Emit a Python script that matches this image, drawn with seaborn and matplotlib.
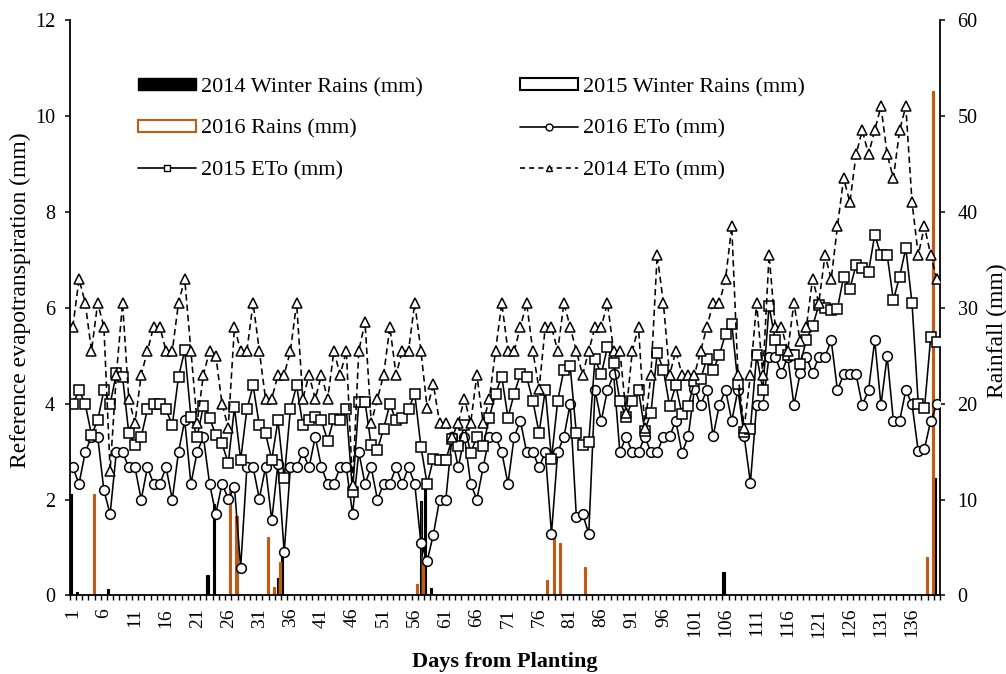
import pandas as pd
import matplotlib.pyplot as plt
import seaborn as sns
from matplotlib.patches import Patch
from matplotlib.lines import Line2D

sns.set_style("ticks")
plt.rcParams["font.family"] = ["Liberation Serif", "DejaVu Serif"]
for key in ["text.color", "axes.labelcolor", "xtick.color", "ytick.color", "axes.edgecolor"]:
    plt.rcParams[key] = "black"

ORANGE = "#C55A11"

# days from planting
days = list(range(1, 141))

# reference ET (mm/day)
eto_2014 = [5.6, 6.6, 6.1, 5.1, 6.1, 5.6, 2.6, 4.6, 6.1, 4.1,
            3.6, 4.6, 5.1, 5.6, 5.6, 5.1, 5.1, 6.1, 6.6, 5.1,
            3.6, 4.6, 5.1, 5.0, 4.0, 3.5, 5.6, 5.1, 5.1, 6.1,
            5.1, 4.1, 4.1, 4.6, 4.6, 5.1, 6.1, 4.1, 4.6, 4.1,
            4.6, 4.1, 5.1, 4.6, 5.1, 2.3, 5.1, 5.7, 3.6, 4.1,
            4.6, 5.6, 4.6, 5.1, 5.1, 6.1, 5.1, 3.9, 4.4, 3.6,
            3.6, 3.3, 3.6, 4.1, 3.6, 4.6, 3.6, 4.1, 5.1, 6.1,
            5.1, 5.1, 5.6, 6.1, 5.1, 4.3, 5.6, 5.6, 5.1, 6.1,
            5.6, 5.1, 4.6, 5.1, 5.6, 5.6, 6.1, 5.1, 5.1, 3.8,
            5.1, 5.6, 3.5, 4.6, 7.1, 6.1, 4.6, 5.1, 4.6, 4.6,
            4.6, 5.1, 5.6, 6.1, 6.1, 6.6, 7.7, 4.6, 3.5, 4.6,
            6.1, 4.6, 7.1, 5.6, 5.6, 5.1, 6.1, 5.3, 5.6, 6.6,
            6.1, 7.1, 6.6, 7.7, 8.7, 8.2, 9.2, 9.7, 9.2, 9.7,
            10.2, 9.2, 8.7, 9.7, 10.2, 8.2, 7.1, 7.7, 7.1, 6.6]

eto_2015 = [3.99, 4.28, 3.99, 3.35, 3.65, 4.28, 3.99, 4.63, 4.56, 3.39,
            3.13, 3.31, 3.88, 3.99, 3.99, 3.88, 3.55, 4.56, 5.11, 3.72,
            3.31, 3.95, 3.71, 3.34, 3.17, 2.76, 3.92, 2.83, 3.88, 4.38,
            3.55, 3.38, 2.83, 3.65, 2.44, 3.88, 4.38, 3.55, 3.65, 3.72,
            3.65, 3.22, 3.69, 3.65, 3.88, 2.16, 4.04, 4.04, 3.13, 3.04,
            3.48, 3.99, 3.65, 3.71, 3.88, 4.21, 3.10, 2.32, 2.85, 2.82,
            2.82, 3.27, 3.11, 3.55, 2.97, 3.31, 3.11, 3.71, 4.21, 4.56,
            3.71, 4.21, 4.61, 4.56, 4.06, 3.39, 4.28, 2.85, 4.06, 4.71,
            4.78, 3.38, 3.13, 3.20, 4.94, 4.61, 5.18, 4.85, 4.06, 3.72,
            4.06, 4.28, 3.44, 3.81, 5.05, 4.71, 3.95, 4.38, 3.78, 3.95,
            4.48, 4.51, 4.94, 4.70, 5.01, 5.46, 5.67, 4.41, 3.41, 3.48,
            5.01, 4.29, 6.04, 5.32, 5.11, 5.01, 5.01, 4.82, 5.33, 5.62,
            6.05, 6.00, 5.96, 5.98, 6.65, 6.40, 6.89, 6.82, 6.75, 7.52,
            7.10, 7.10, 6.16, 6.65, 7.24, 6.09, 4.00, 3.90, 5.38, 5.29]

eto_2016 = [2.67, 2.33, 2.99, 3.31, 3.31, 2.19, 1.70, 2.99, 2.99, 2.67,
            2.67, 2.00, 2.67, 2.33, 2.33, 2.67, 2.00, 2.99, 3.65, 2.33,
            2.99, 3.31, 2.33, 1.70, 2.33, 2.02, 2.26, 0.58, 2.67, 2.67,
            2.02, 2.67, 1.57, 2.75, 0.90, 2.67, 2.67, 2.99, 2.67, 3.31,
            2.67, 2.33, 2.33, 2.67, 2.67, 1.70, 2.99, 2.33, 2.67, 2.00,
            2.33, 2.33, 2.67, 2.33, 2.67, 2.33, 1.09, 0.72, 1.27, 2.00,
            2.00, 3.31, 2.67, 3.31, 2.33, 2.00, 2.67, 3.31, 3.31, 2.99,
            2.33, 3.31, 3.64, 2.99, 2.99, 2.67, 2.99, 1.29, 2.99, 3.31,
            3.99, 1.64, 1.70, 1.29, 4.28, 3.64, 4.28, 4.61, 2.99, 3.31,
            2.99, 2.99, 3.31, 2.99, 2.99, 3.31, 3.32, 3.64, 2.97, 3.32,
            4.31, 3.97, 4.29, 3.32, 3.97, 4.29, 3.64, 4.29, 3.32, 2.35,
            3.97, 3.97, 4.98, 4.98, 4.63, 4.98, 3.97, 4.63, 4.98, 4.63,
            4.98, 4.98, 5.32, 4.28, 4.61, 4.61, 4.61, 3.97, 4.28, 5.32,
            3.97, 4.99, 3.64, 3.64, 4.28, 3.99, 3.01, 3.06, 3.64, 3.99]

# rainfall (mm), only days with rain
rain_2014_days = [1, 2, 7, 23, 24, 35, 58, 59, 106, 140]
rain_2014_mm = [10.6, 0.4, 0.7, 2.1, 9.5, 4.5, 11.5, 0.8, 2.5, 12.3]
rain_2015_days = [34, 57]
rain_2015_mm = [1.8, 9.9]
rain_2016_days = [4, 26, 27, 32, 33, 34, 56, 57, 77, 78, 79, 83, 138, 139]
rain_2016_mm = [10.6, 11.2, 8.3, 6.1, 0.9, 3.5, 1.2, 4.0, 1.6, 6.8, 5.5, 3.0, 4.0, 52.6]

rain_series = ["2014 Winter Rains (mm)", "2015 Winter Rains (mm)", "2016 Rains (mm)"]
rain = pd.concat([
    pd.DataFrame({"day": rain_2014_days, "mm": rain_2014_mm, "series": rain_series[0]}),
    pd.DataFrame({"day": rain_2015_days, "mm": rain_2015_mm, "series": rain_series[1]}),
    pd.DataFrame({"day": rain_2016_days, "mm": rain_2016_mm, "series": rain_series[2]}),
])

fig = plt.figure(figsize=(10.06, 6.74), dpi=100)
ax = fig.add_axes([0.0693, 0.1165, 0.8651, 0.8538])
ax2 = ax.twinx()

# rainfall bars on the right axis (thin bars look solid, like the original)
sns.barplot(data=rain, x="day", y="mm", hue="series", hue_order=rain_series,
            native_scale=True, dodge=True, width=1.0, errorbar=None, legend=False,
            palette=dict(zip(rain_series, ["black", "#333333", ORANGE])), ax=ax2)
for cont, ec in zip(ax2.containers, ["black", "black", ORANGE]):
    for bar in cont:
        bar.set_edgecolor(ec)
        bar.set_linewidth(0.8)

# ETo lines on the left axis
line_styles = [
    (eto_2016, "o", "-", 7.0),
    (eto_2015, "s", "-", 6.5),
    (eto_2014, "^", (0, (4, 2.5)), 7.5),
]
for vals, mk, ls, ms in line_styles:
    sns.lineplot(x=days, y=vals, ax=ax, color="black", linewidth=1.15, linestyle=ls,
                 marker=mk, markersize=ms, markerfacecolor="white",
                 markeredgecolor="black", markeredgewidth=1.1)

ax.set_zorder(ax2.get_zorder() + 1)
ax.patch.set_visible(False)

ax.set_xlim(0.5, 140.5)
ax.set_ylim(0, 12)
ax2.set_ylim(0, 60)
ax.set_yticks(range(0, 13, 2))
ax2.set_yticks(range(0, 61, 10))
ax.set_xticks(range(1, 141, 5))
ax.set_xticklabels([str(d) for d in range(1, 141, 5)], rotation=90)
ax.set_xticks([d + 0.5 for d in range(0, 141)], minor=True)

ax.tick_params(axis="x", which="major", length=0, pad=9, labelsize=14)
ax.tick_params(axis="x", which="minor", length=3.6, width=1.0, direction="out")
ax.tick_params(axis="y", length=3.6, width=1.1, direction="out", pad=7, labelsize=14.5)
ax2.tick_params(axis="y", length=3.6, width=1.1, direction="out", pad=9, labelsize=14.5)

for side in ["top", "right"]:
    ax.spines[side].set_visible(False)
for side in ["top", "left", "bottom"]:
    ax2.spines[side].set_visible(False)
for sp in [ax.spines["left"], ax.spines["bottom"], ax2.spines["right"]]:
    sp.set_linewidth(1.3)

ax.set_ylabel("Reference evapotranspiration (mm)", fontsize=17)
ax.yaxis.label.set_va("center")
ax.yaxis.set_label_coords(-0.057, 0.513)
ax2.set_ylabel("Rainfall (mm)", fontsize=17)
ax2.yaxis.label.set_va("center")
ax2.yaxis.set_label_coords(1.0655, 0.46)
ax.set_xlabel("Days from Planting", fontsize=16, fontweight="bold")
ax.xaxis.label.set_va("baseline")
ax.xaxis.set_label_coords(0.5, -0.124)

handles = [
    Patch(facecolor="black", edgecolor="black"),
    Patch(facecolor="white", edgecolor=ORANGE, linewidth=1.5),
    Line2D([], [], color="black", lw=1.2, marker="s", ms=5, mfc="white", mec="black"),
    Patch(facecolor="white", edgecolor="black", linewidth=1.5),
    Line2D([], [], color="black", lw=1.2, marker="o", ms=5, mfc="white", mec="black"),
    Line2D([], [], color="black", lw=1.2, ls=(0, (3, 2.5)), marker="^", ms=5, mfc="white", mec="black"),
]
labels = ["2014 Winter Rains (mm)", "2016 Rains (mm)", "2015 ETo (mm)",
          "2015 Winter Rains (mm)", "2016 ETo (mm)", "2014 ETo (mm)"]
fig.legend(handles, labels, loc="upper left", bbox_to_anchor=(138 / 1006, 1 - 78 / 674),
           ncol=2, frameon=False, fontsize=16, handlelength=2.6, handleheight=0.45,
           handletextpad=0.25, columnspacing=4.35, labelspacing=1.0,
           borderpad=0, borderaxespad=0)

plt.savefig("out.png", dpi=100)
plt.close()
